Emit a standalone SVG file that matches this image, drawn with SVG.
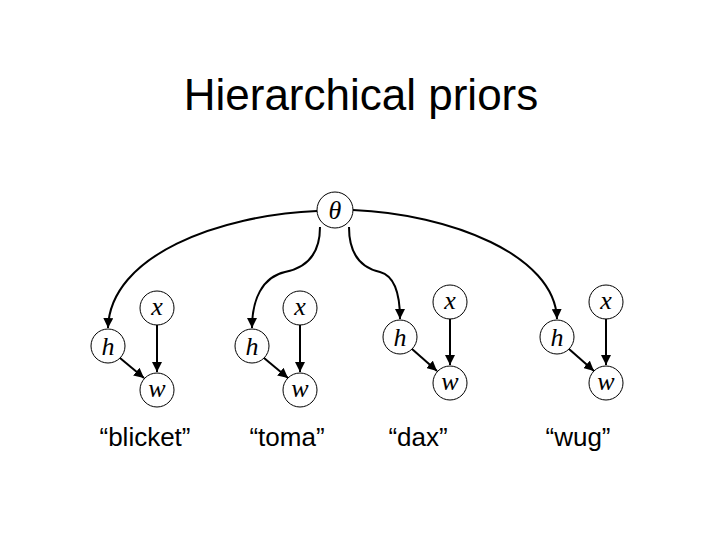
<svg xmlns="http://www.w3.org/2000/svg" width="720" height="540" viewBox="0 0 720 540">
<defs>
<marker id="ah" viewBox="0 0 10 10" refX="10" refY="5" markerWidth="5" markerHeight="5" orient="auto"><path d="M0,0 L10,5 L0,10 z" fill="#000"/></marker>
<style>
.n circle{fill:#fff;stroke:#000;stroke-width:1}
.v{font-family:"Liberation Serif",serif;font-style:italic;font-size:26px;text-anchor:middle}
.c path{fill:none;stroke:#000;stroke-width:2;marker-end:url(#ah)}
.lb{font-family:"Liberation Sans",sans-serif;font-size:26px;text-anchor:middle}
</style>
</defs>
<rect width="720" height="540" fill="#fff"/>
<text x="361" y="110" font-family="Liberation Sans,sans-serif" font-size="44" text-anchor="middle">Hierarchical priors</text>
<g class="c">
<path d="M317,211 C220,215 110,255 108,328"/>
<path d="M320,227 C320,255 305,268 285,272 C262,277 252,300 252,328"/>
<path d="M349,227 C349,255 362,268 380,272 C395,276 400,296 400,319"/>
<path d="M353,210 C450,214 555,255 557,319"/>
<path d="M157,325 V372"/><path d="M120,358 L144,378"/>
<path d="M300,325 V372"/><path d="M264,358 L288,378"/>
<path d="M450,319 V365"/><path d="M412,349 L437,371"/>
<path d="M606,319 V365"/><path d="M569,349 L594,371"/>
</g>
<g id="theta" class="n"><circle cx="335" cy="210" r="18"/><text class="v" x="335" y="219">θ</text></g>
<g id="g1" class="n">
<circle cx="108" cy="346" r="17"/><text class="v" x="108" y="355">h</text>
<circle cx="157" cy="308" r="17"/><text class="v" x="157" y="315">x</text>
<circle cx="157" cy="390" r="17"/><text class="v" x="157" y="397">w</text>
<text class="lb" x="145" y="446">“blicket”</text></g>
<g id="g2" class="n">
<circle cx="252" cy="346" r="17"/><text class="v" x="252" y="355">h</text>
<circle cx="300" cy="308" r="17"/><text class="v" x="300" y="315">x</text>
<circle cx="300" cy="390" r="17"/><text class="v" x="300" y="397">w</text>
<text class="lb" x="287" y="446">“toma”</text></g>
<g id="g3" class="n">
<circle cx="400" cy="337" r="17"/><text class="v" x="400" y="346">h</text>
<circle cx="450" cy="302" r="17"/><text class="v" x="450" y="309">x</text>
<circle cx="450" cy="383" r="17"/><text class="v" x="450" y="390">w</text>
<text class="lb" x="418" y="446">“dax”</text></g>
<g id="g4" class="n">
<circle cx="557" cy="337" r="17"/><text class="v" x="557" y="346">h</text>
<circle cx="606" cy="302" r="17"/><text class="v" x="606" y="309">x</text>
<circle cx="606" cy="383" r="17"/><text class="v" x="606" y="390">w</text>
<text class="lb" x="578" y="446">“wug”</text></g>
</svg>
